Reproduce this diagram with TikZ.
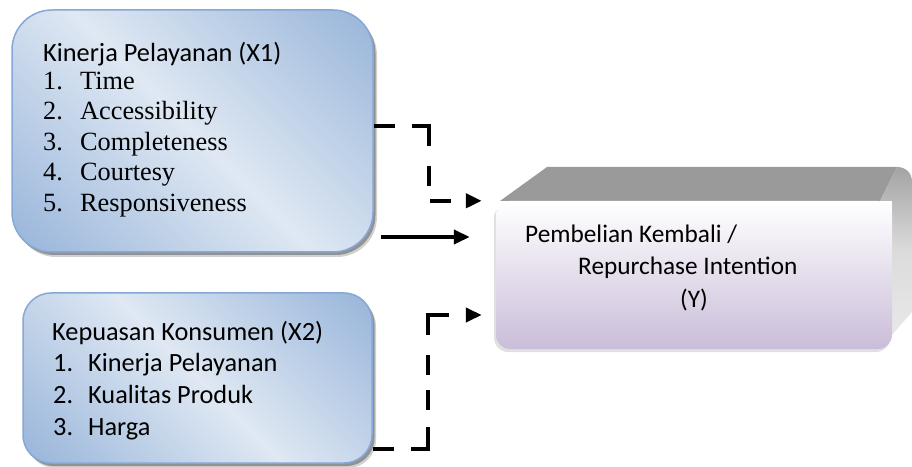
\documentclass[tikz,border=0pt]{standalone}
\usepackage{fontspec}
\newfontfamily\calfont{Carlito}
\newfontfamily\tmsfont{Liberation Serif}
\usetikzlibrary{arrows.meta,calc,shadows}
\definecolor{bdark}{HTML}{98B5DA}
\definecolor{blight}{HTML}{DFE8F3}
\definecolor{bborder}{HTML}{86A8D6}
\definecolor{lav}{HTML}{CABDD9}
\definecolor{topgray}{HTML}{9A9A9A}
\pgfdeclarehorizontalshading{bluesh}{100bp}{color(0bp)=(bdark); color(15bp)=(bdark); color(50bp)=(blight); color(85bp)=(bdark); color(100bp)=(bdark)}
\tikzset{
  bluebox/.style={shade, shading=bluesh, shading angle=45, draw=bborder, line width=1.5pt, inner sep=0pt,
    drop shadow={shadow xshift=4pt, shadow yshift=-5pt, opacity=0.18, fill=black},
    drop shadow={shadow xshift=2.5pt, shadow yshift=-3pt, opacity=0.3, fill=black}},
  txt/.style={anchor=base west, inner sep=0pt},
  calt/.style={font=\calfont\fontsize{26.3}{30}\selectfont},
  calty/.style={font=\calfont\fontsize{25.3}{30}\selectfont},
  tmst/.style={font=\tmsfont\fontsize{26.3}{30}\selectfont},
  conn/.style={line width=4pt, -{Triangle[length=16pt,width=14pt]}},
  dashA/.style={conn, dash pattern=on 21pt off 17pt on 37pt off 20pt on 20pt off 16pt on 21pt off 17pt},
  dashB/.style={conn, dash pattern=on 21pt off 17pt on 39pt off 17pt on 20pt off 15pt on 20pt off 20pt on 41pt off 18pt}
}
\begin{document}
\begin{tikzpicture}[x=1pt,y=1pt]
\useasboundingbox (0,0) rectangle (912,466);
% left boxes
\node[bluebox, rounded corners=40pt, minimum width=361pt, minimum height=242pt] (x1) at (192.5,335) {};
\node[bluebox, rounded corners=28pt, minimum width=349pt, minimum height=170pt] (x2) at (197.5,88) {};
% 3D box Y
\fill[topgray] (500,265) -- (547,299) -- (897,299) -- (880,265) -- cycle;
\shade[top color=black!36, bottom color=black!9, middle color=black!14]
  (880,265) -- (897,299) .. controls (906,299) and (912,293) .. (912,284) -- (912,154) -- (892,131) -- (892,265) -- cycle;
\node[shade, top color=white, bottom color=lav, rounded corners=14pt, inner sep=0pt,
  minimum width=396pt, minimum height=148pt,
  drop shadow={shadow xshift=-2pt, shadow yshift=-3pt, opacity=0.12, fill=black}] (yb) at (694,191) {};
% texts X1
\node[txt, calt] (x1t) at (43,404) {Kinerja Pelayanan (X1)};
\node[txt, tmst] (x1a) at (43,376.5) {\makebox[37pt][l]{1.}Time};
\node[txt, tmst] (x1b) at (43,346) {\makebox[37pt][l]{2.}Accessibility};
\node[txt, tmst] (x1c) at (43,315.5) {\makebox[37pt][l]{3.}Completeness};
\node[txt, tmst] (x1d) at (43,285) {\makebox[37pt][l]{4.}Courtesy};
\node[txt, tmst] (x1e) at (43,254.5) {\makebox[37pt][l]{5.}Responsiveness};
% texts X2
\node[txt, calt] (x2t) at (52,126) {Kepuasan Konsumen (X2)};
\node[txt, calt] (x2a) at (53,94.3) {\makebox[35pt][l]{1.}Kinerja Pelayanan};
\node[txt, calt] (x2b) at (53,62.7) {\makebox[35pt][l]{2.}Kualitas Produk};
\node[txt, calt] (x2c) at (53,31) {\makebox[35pt][l]{3.}Harga};
% texts Y
\node[txt, calty] (yt1) at (525,223) {Pembelian Kembali /};
\node[txt, calty] (yt2) at (578,191) {Repurchase Intention};
\node[txt, calty] (yt3) at (680,158) {(Y)};
% connectors
\coordinate (t1) at ([xshift=-14pt]yb.north west);
\coordinate (t2) at ([xshift=-26pt,yshift=38pt]yb.west);
\coordinate (t3) at ([xshift=-14pt,yshift=-40pt]yb.west);
\draw[dashA] ([yshift=5pt]x1.east) -- ++(55,0) |- (t1);
\draw[conn] ([xshift=7pt,yshift=-106pt]x1.east) -- (t2);
\draw[dashB] ([yshift=-71pt]x2.east) -- ++(55,0) |- (t3);
\end{tikzpicture}
\end{document}
